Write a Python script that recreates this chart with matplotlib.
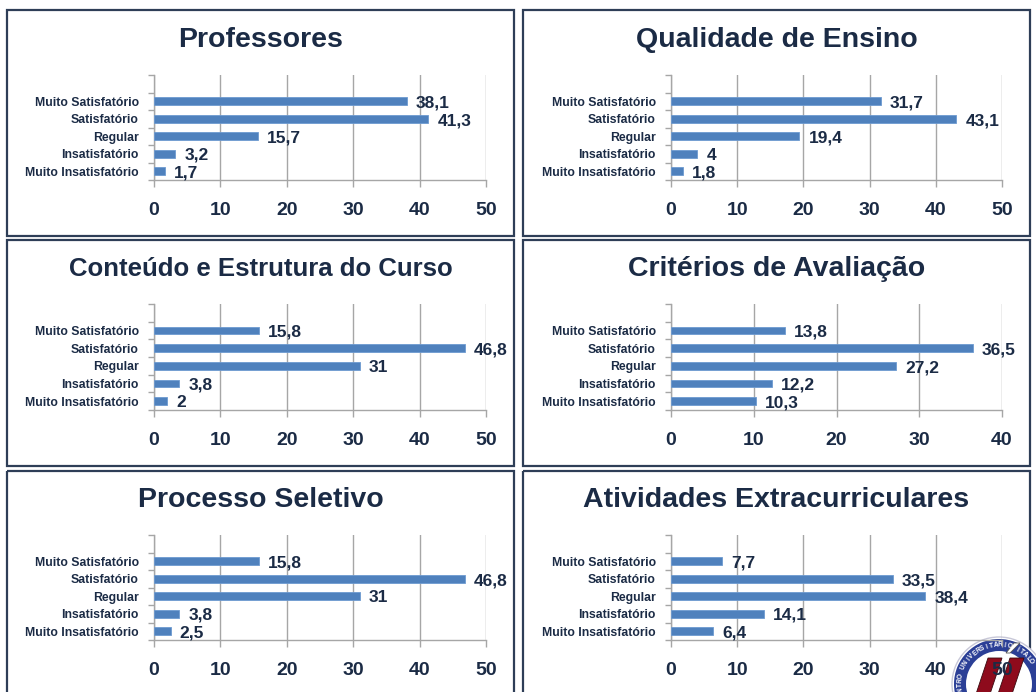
import numpy as np
import matplotlib
matplotlib.use("Agg")
import matplotlib.pyplot as plt
from matplotlib.patches import Rectangle, Circle, Wedge, Polygon

plt.rcParams['font.family'] = ['Liberation Sans', 'DejaVu Sans']

# dados (de baixo para cima)
categorias = ["Muito Insatisfatório", "Insatisfatório", "Regular",
              "Satisfatório", "Muito Satisfatório"]
titulos = ["Professores", "Qualidade de Ensino",
           "Conteúdo e Estrutura do Curso", "Critérios de Avaliação",
           "Processo Seletivo", "Atividades Extracurriculares"]
professores = [1.7, 3.2, 15.7, 41.3, 38.1]
qualidade = [1.8, 4, 19.4, 43.1, 31.7]
conteudo = [2, 3.8, 31, 46.8, 15.8]
criterios = [10.3, 12.2, 27.2, 36.5, 13.8]
processo = [2.5, 3.8, 31, 46.8, 15.8]
atividades = [6.4, 14.1, 38.4, 33.5, 7.7]
series = [professores, qualidade, conteudo, criterios, processo, atividades]
xmax = [50, 50, 50, 40, 50, 50]
tam_titulo = [20.5, 20.5, 18.5, 20.5, 20.5, 20.5]

W, H = 1036, 692
AZUL = "#4F81BD"
TEXTO = "#1B2B45"
GRADE = "#A6A6A6"

fig = plt.figure(figsize=(W / 100, H / 100), dpi=100)
fig.patch.set_facecolor("white")

# camada de fundo em pixels (molduras + logo)
bg = fig.add_axes([0, 0, 1, 1], zorder=0)
bg.set_xlim(0, W)
bg.set_ylim(H, 0)
bg.axis("off")

caixas_x = [(7, 514), (523, 1030)]
caixas_y = [(10, 236), (240, 466), (471, 705)]
eixos_x = [(154, 486), (671, 1002)]
eixos_y = [(75, 180), (304, 410), (535, 640)]
titulo_y = [40, 269, 500]

for r in range(3):
    for c in range(2):
        x0, x1 = caixas_x[c]
        y0, y1 = caixas_y[r]
        bg.add_patch(Rectangle((x0, y0), x1 - x0, y1 - y0, fill=False,
                               edgecolor="#2E3E57", linewidth=1.6))

# logo (aproximado)
cx, cy, rr = 999, 684, 47
bg.add_patch(Circle((cx, cy), rr, facecolor="white", edgecolor="#C8C8D8", linewidth=1))
bg.add_patch(Wedge((cx, cy), rr - 2, 0, 360, width=12, facecolor="#2B3F96"))
bg.add_patch(Polygon([(974, 700), (988, 658), (1002, 658), (988, 700)], closed=True,
                     facecolor="#8E0B1C", edgecolor="#3A0A10", linewidth=0.6))
bg.add_patch(Polygon([(996, 700), (1010, 658), (1024, 658), (1010, 700)], closed=True,
                     facecolor="#8E0B1C", edgecolor="#3A0A10", linewidth=0.6))
bg.add_patch(Polygon([(1006, 653), (1014, 643), (1020, 643), (1010, 653)], closed=True,
                     facecolor="white", edgecolor="#555555", linewidth=0.6))
texto_logo = "NTRO UNIVERSITÁRIO ÍTALO"
angs = np.linspace(188, 35, len(texto_logo))
for ch, a in zip(texto_logo, angs):
    t = np.deg2rad(a)
    bg.text(cx + (rr - 8) * np.cos(t), cy - (rr - 8) * np.sin(t), ch,
            rotation=a - 90, ha="center", va="center", fontsize=4.8,
            fontweight="bold", color="white")

ypos = np.arange(len(categorias))
for i, (titulo, vals, xm) in enumerate(zip(titulos, series, xmax)):
    r, c = divmod(i, 2)
    ax0, ax1 = eixos_x[c]
    ay0, ay1 = eixos_y[r]
    ax = fig.add_axes([ax0 / W, 1 - ay1 / H, (ax1 - ax0) / W, (ay1 - ay0) / H],
                      zorder=2)
    ax.patch.set_alpha(0)
    ax.barh(ypos, vals, height=0.45, color=AZUL, edgecolor="#6D9AD0",
            linewidth=0.6, zorder=3)
    for y, v in zip(ypos, vals):
        rot = f"{v:g}".replace(".", ",")
        ax.annotate(rot, (v, y), xytext=(6.5, -4.5), textcoords="offset points",
                    ha="left", va="baseline", fontsize=12.5, fontweight="bold",
                    color=TEXTO, zorder=4)
    ax.set_xlim(0, xm)
    ax.set_ylim(-0.5, 5.5)
    ax.set_xticks(np.arange(0, xm + 1, 10))
    ax.set_yticks(ypos)
    ax.set_yticklabels(categorias)
    ax.set_yticks(np.arange(-0.5, 6, 1), minor=True)
    ax.grid(axis="x", color=GRADE, linewidth=1, zorder=1)
    ax.set_axisbelow(True)
    for s in ["top", "right"]:
        ax.spines[s].set_visible(False)
    for s in ["left", "bottom"]:
        ax.spines[s].set_color(GRADE)
        ax.spines[s].set_linewidth(1)
    ax.tick_params(axis="y", which="major", length=0, pad=11,
                   labelsize=8.8, labelcolor=TEXTO)
    for lab in ax.get_yticklabels():
        lab.set_fontweight("bold")
    ax.tick_params(axis="y", which="minor", length=4, color=GRADE, width=1)
    ax.tick_params(axis="x", length=5, color=GRADE, width=1, pad=10.5,
                   labelsize=14, labelcolor=TEXTO)
    for lab in ax.get_xticklabels():
        lab.set_fontweight("bold")

    cxt = (caixas_x[c][0] + caixas_x[c][1]) / 2
    bg.text(cxt, titulo_y[r], titulo, ha="center", va="center",
            fontsize=tam_titulo[i], fontweight="bold", color=TEXTO)

fig.savefig("out.png", dpi=100)
